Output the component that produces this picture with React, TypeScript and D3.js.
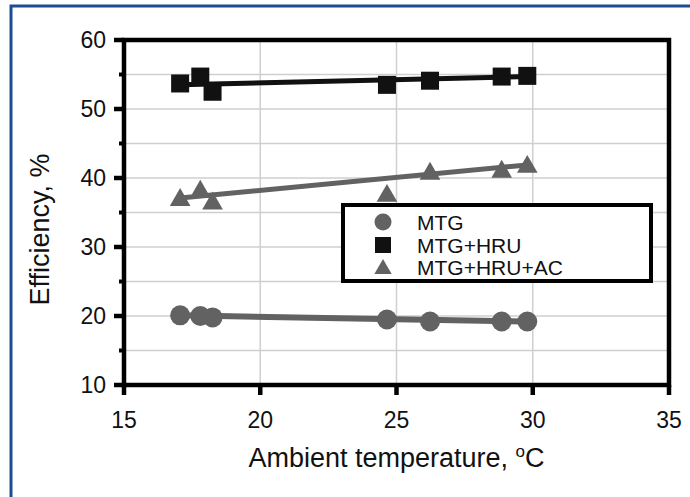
import React from "react";
import * as d3 from "d3";

// Ambient temperature (°C) at each measurement
const temperatures = [17.06, 17.8, 18.25, 24.65, 26.23, 28.86, 29.8];
// Efficiency (%) for each configuration
const mtg = [20.1, 20.0, 19.8, 19.5, 19.2, 19.2, 19.2];
const mtgHru = [53.7, 54.7, 52.5, 53.5, 54.1, 54.7, 54.8];
const mtgHruAc = [37.1, 38.3, 36.6, 37.7, 40.9, 41.2, 41.9];
// Trend line end values (at the first and last temperature)
const trendMtg = [20.1, 19.2];
const trendMtgHru = [53.5, 54.7];
const trendMtgHruAc = [37.1, 41.9];

const xTicks = [15, 20, 25, 30, 35];
const yTicks = [10, 20, 30, 40, 50, 60];
const yMinorTicks = [15, 25, 35, 45, 55];
const legendLabels = ["MTG", "MTG+HRU", "MTG+HRU+AC"];

const W = 690;
const H = 497;
const FONT = "'Liberation Sans', Arial, Helvetica, sans-serif";
const GRAY = "#626262";
const BLACK = "#111";

export default function App() {
  const x = d3.scaleLinear().domain([15, 35]).range([124, 669]);
  const y = d3.scaleLinear().domain([10, 60]).range([385, 40]);
  const line = d3
    .line<[number, number]>()
    .x((d) => x(d[0]))
    .y((d) => y(d[1]));
  const tFirst = temperatures[0];
  const tLast = temperatures[temperatures.length - 1];
  const trend = (v: number[]) =>
    line([
      [tFirst, v[0]],
      [tLast, v[1]],
    ]) || "";

  const tri = d3.symbol().type(d3.symbolTriangle).size(185)() || "";
  const triLegend = d3.symbol().type(d3.symbolTriangle).size(130)() || "";
  const sq = 18;

  const legendX = 343;
  const legendY = 205;
  const rows = [222, 245, 267];

  return (
    <svg
      width={W}
      height={H}
      style={{ position: "absolute", left: 0, top: 0, background: "#fff" }}
      fontFamily={FONT}
    >
      <rect x={0} y={0} width={W} height={H} fill="#fff" />
      {/* outer frame */}
      <rect x={11} y={6} width={W + 20} height={H + 20} fill="none" stroke="#1b4d94" strokeWidth={3} />

      {/* grid */}
      {yMinorTicks.concat(yTicks.slice(1, -1)).map((v) => (
        <line key={"gy" + v} x1={x(15)} x2={x(35)} y1={y(v)} y2={y(v)} stroke="#cfcfcf" strokeWidth={1.5} />
      ))}
      {xTicks.slice(1, -1).map((v) => (
        <line key={"gx" + v} x1={x(v)} x2={x(v)} y1={y(10)} y2={y(60)} stroke="#cfcfcf" strokeWidth={1.5} />
      ))}

      {/* trend lines */}
      <path d={trend(trendMtg)} stroke={GRAY} strokeWidth={6} fill="none" />
      <path d={trend(trendMtgHru)} stroke={BLACK} strokeWidth={5} fill="none" />
      <path d={trend(trendMtgHruAc)} stroke={GRAY} strokeWidth={5} fill="none" />

      {/* markers */}
      {temperatures.map((t, i) => (
        <circle key={"c" + i} cx={x(t)} cy={y(mtg[i])} r={10} fill={GRAY} />
      ))}
      {temperatures.map((t, i) => (
        <rect key={"s" + i} x={x(t) - sq / 2} y={y(mtgHru[i]) - sq / 2} width={sq} height={sq} fill={BLACK} />
      ))}
      {temperatures.map((t, i) => (
        <path key={"t" + i} d={tri} transform={`translate(${x(t)},${y(mtgHruAc[i]) + 2})`} fill={GRAY} />
      ))}

      {/* axes frame */}
      <rect x={x(15)} y={y(60)} width={x(35) - x(15)} height={y(10) - y(60)} fill="none" stroke="#000" strokeWidth={4.5} />
      {yTicks.map((v) => (
        <line key={"ty" + v} x1={x(15) - 10} x2={x(15)} y1={y(v)} y2={y(v)} stroke="#000" strokeWidth={4.5} />
      ))}
      {yMinorTicks.map((v) => (
        <line key={"tm" + v} x1={x(15) - 5} x2={x(15)} y1={y(v)} y2={y(v)} stroke="#000" strokeWidth={4} />
      ))}
      {xTicks.map((v) => (
        <line key={"tx" + v} x1={x(v)} x2={x(v)} y1={y(10)} y2={y(10) + 10} stroke="#000" strokeWidth={4.5} />
      ))}

      {/* tick labels */}
      {yTicks.map((v) => (
        <text key={"ly" + v} x={106} y={y(v)} dy="0.36em" textAnchor="end" fontSize={23} fill="#111">
          {v}
        </text>
      ))}
      {xTicks.map((v) => (
        <text key={"lx" + v} x={x(v)} y={420} dy="0.36em" textAnchor="middle" fontSize={23} fill="#111">
          {v}
        </text>
      ))}

      {/* axis titles */}
      <text x={(x(15) + x(35)) / 2} y={467} textAnchor="middle" fontSize={27} fill="#111">
        Ambient temperature, <tspan dy="-10" fontSize={17}>o</tspan>
        <tspan dy="10">C</tspan>
      </text>
      <text
        transform={`translate(49,${(y(10) + y(60)) / 2 + 17}) rotate(-90)`}
        textAnchor="middle"
        fontSize={27}
        fill="#111"
      >
        Efficiency, %
      </text>

      {/* legend */}
      <rect x={legendX} y={legendY} width={308} height={76} fill="#fff" stroke="#000" strokeWidth={4} />
      <circle cx={383} cy={rows[0]} r={8.5} fill={GRAY} />
      <rect x={383 - 8} y={rows[1] - 8} width={16} height={16} fill={BLACK} />
      <path d={triLegend} transform={`translate(383,${rows[2] + 2})`} fill={GRAY} />
      {legendLabels.map((l, i) => (
        <text key={l} x={417} y={rows[i]} dy="0.36em" fontSize={21} fill="#111">
          {l}
        </text>
      ))}
    </svg>
  );
}
